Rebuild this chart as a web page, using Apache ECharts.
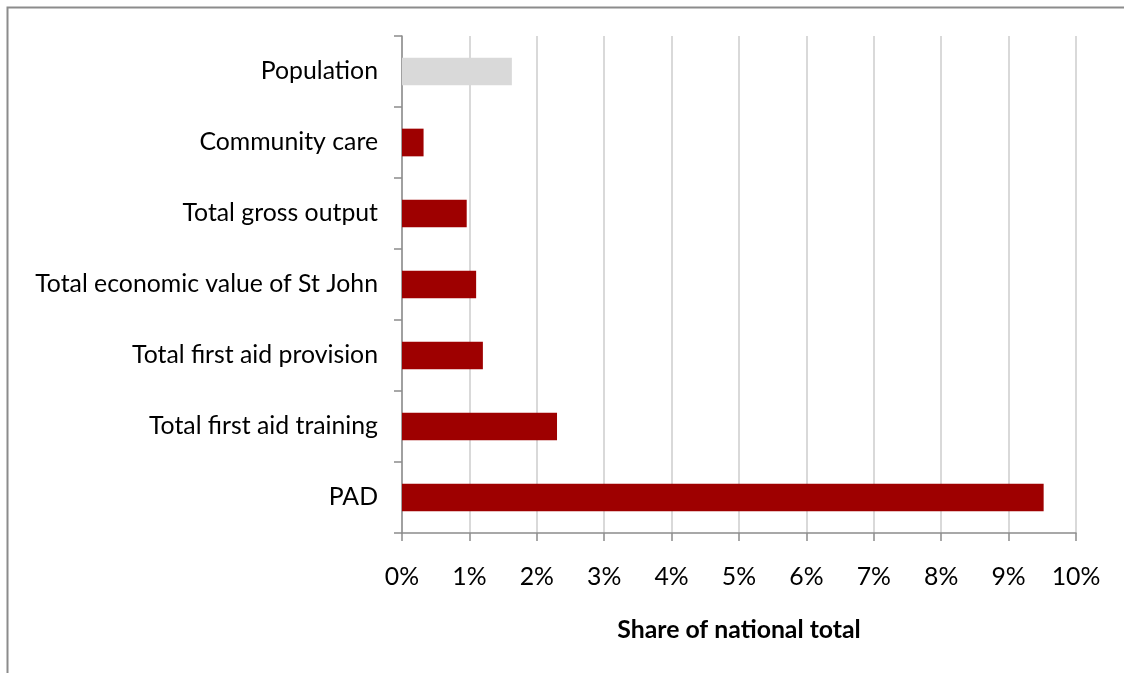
<!DOCTYPE html>
<html>
<head>
<meta charset="utf-8">
<script src="https://cdn.jsdelivr.net/npm/echarts@6/dist/echarts.min.js"></script>
<style>
  html, body { margin: 0; padding: 0; background: #fff; }
  #chart { width: 1124px; height: 673px; }
</style>
</head>
<body>
<div id="chart"></div>
<script>
// Categories listed bottom-to-top, as the category axis draws them
const categories = [
  'PAD',
  'Total first aid training',
  'Total first aid provision',
  'Total economic value of St John',
  'Total gross output',
  'Community care',
  'Population'
];
// Share of national total, in percent
const shareValues = [9.52, 2.30, 1.20, 1.10, 0.96, 0.32, 1.63];
const xTicks = [0, 1, 2, 3, 4, 5, 6, 7, 8, 9, 10];

const RED = '#9e0000';
const GREY_BAR = '#d9d9d9';
const FONT = 'Lato, "Open Sans", sans-serif';
const FONT_SIZE = 24.8;

const chart = echarts.init(document.getElementById('chart'), null, { renderer: 'canvas' });

chart.setOption({
  animation: false,
  backgroundColor: '#fff',
  graphic: [{
    type: 'rect',
    shape: { x: 7.5, y: 7.5, width: 1140, height: 700 },
    style: { fill: 'none', stroke: '#8c8c8c', lineWidth: 2 },
    silent: true
  }],
  grid: { left: 402, right: 48, top: 36, bottom: 140, containLabel: false },
  xAxis: {
    type: 'value',
    min: xTicks[0],
    max: xTicks[xTicks.length - 1],
    interval: 1,
    name: 'Share of national total',
    nameLocation: 'middle',
    nameGap: 85,
    nameTextStyle: { fontFamily: FONT, fontSize: FONT_SIZE, fontWeight: 'bold', color: '#000' },
    axisLine: { show: true, lineStyle: { color: '#8c8c8c', width: 1.5 } },
    axisTick: { show: true, length: 8, lineStyle: { color: '#8c8c8c', width: 1.5 } },
    axisLabel: {
      margin: 32,
      fontFamily: FONT, fontSize: FONT_SIZE, color: '#000',
      formatter: v => v + '%'
    },
    splitLine: { show: true, lineStyle: { color: '#d9d9d9', width: 2 } }
  },
  yAxis: {
    type: 'category',
    data: categories,
    axisLine: { show: true, lineStyle: { color: '#8c8c8c', width: 1.5 } },
    axisTick: { show: true, length: 8, lineStyle: { color: '#8c8c8c', width: 1.5 } },
    axisLabel: { margin: 24, fontFamily: FONT, fontSize: FONT_SIZE, color: '#000' },
    splitLine: { show: false }
  },
  series: [{
    type: 'bar',
    data: shareValues.map((v, i) => ({
      value: v,
      itemStyle: { color: categories[i] === 'Population' ? GREY_BAR : RED }
    })),
    barCategoryGap: '61%'
  }]
});
</script>
</body>
</html>
